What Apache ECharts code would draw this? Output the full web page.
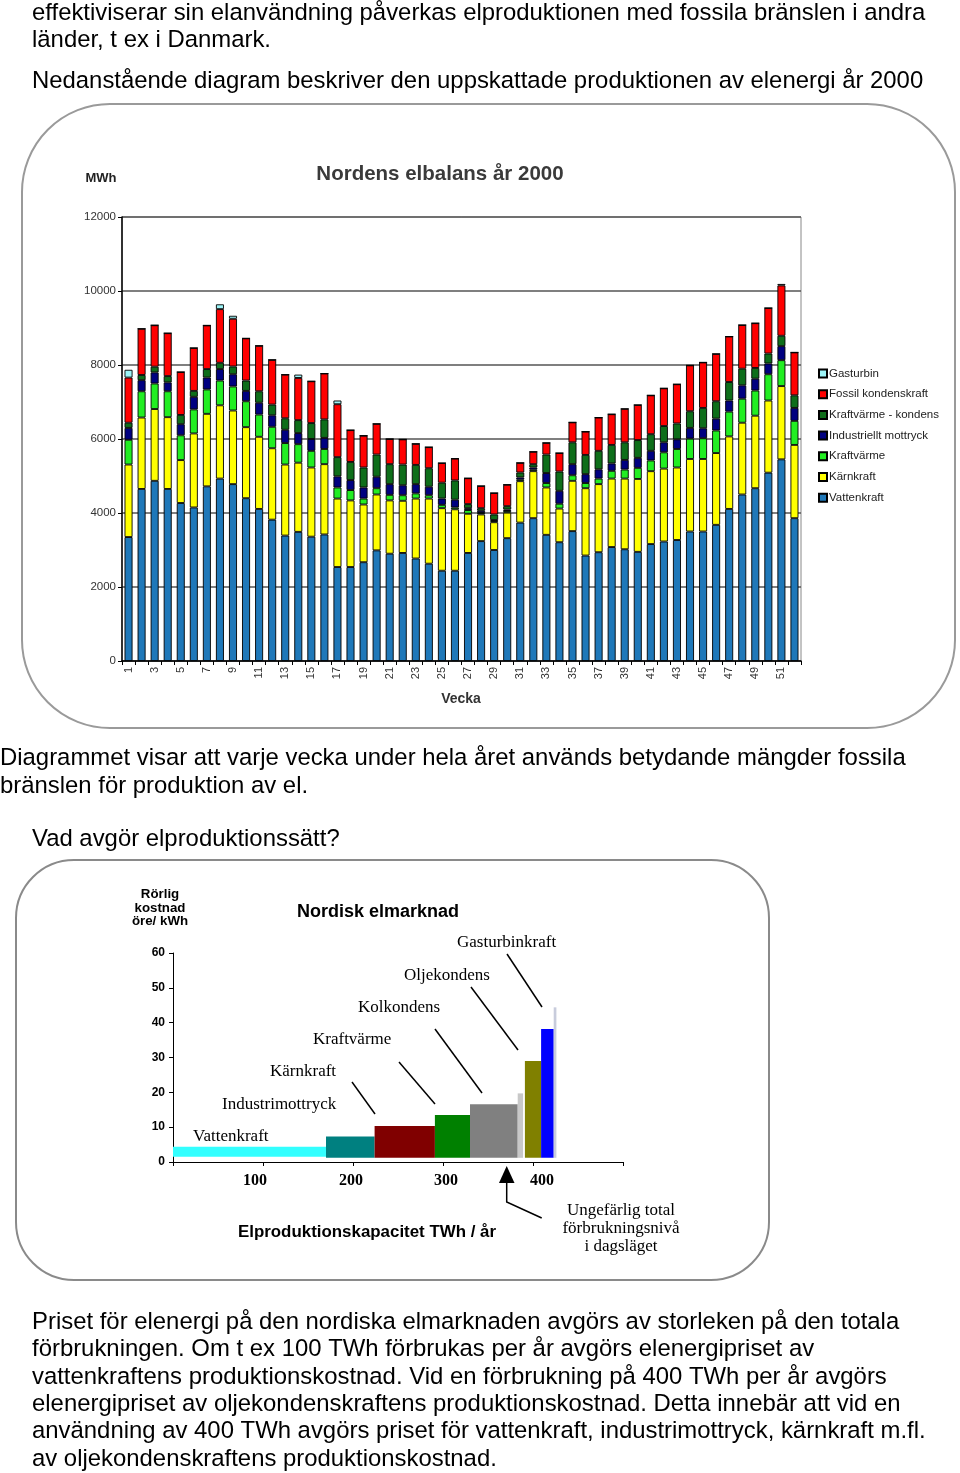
<!DOCTYPE html>
<html><head><meta charset="utf-8">
<script src="https://cdn.jsdelivr.net/npm/echarts@6/dist/echarts.min.js"></script>
<style>html,body{margin:0;padding:0;background:#fff}#c{width:960px;height:1473px}</style>
</head><body><div id="c"></div>
<script>
// ---------- Chart 1: Nordens elbalans år 2000 (MWh per vecka) ----------
const weeks = ['1','2','3','4','5','6','7','8','9','10','11','12','13','14','15','16','17','18','19','20','21','22','23','24','25','26','27','28','29','30','31','32','33','34','35','36','37','38','39','40','41','42','43','44','45','46','47','48','49','50','51','52'];
const yTicks1 = [0, 2000, 4000, 6000, 8000, 10000, 12000];
const vattenkraft = [3350,4650,4870,4650,4270,4150,4720,4930,4780,4400, 4110,3820,3390,3490,3360,3420,2540,2540,2670,2990, 2900,2920,2770,2630,2440,2440,2920,3240,3000,3320, 3740,3860,3410,3210,3510,2850,2940,3080,3020,2950, 3160,3230,3270,3500,3500,3680,4110,4500,4670,5090, 5450,3860];
const karnkraft = [1960,1930,1940,1940,1160,2000,1960,1980,1990,1920, 1950,1930,1920,1870,1870,1900,1850,1800,1560,1510, 1440,1410,1620,1760,1690,1660,1060,720,750,690, 1120,1270,1280,910,1360,1820,1840,1850,1910,1970, 1970,1970,1960,1960,1960,1940,1960,1940,1960,1950, 1980,1980];
const kraftvarme = [670,710,690,700,670,650,660,670,650,700, 600,580,580,500,450,410,300,280,160,170, 150,150,140,90,90,50,100,40,30,45, 40,40,120,130,150,140,150,210,245,300, 290,440,500,550,560,610,670,650,680,710, 700,650];
const industriellt = [320,300,300,240,300,340,320,310,330,280, 320,310,360,300,320,300,300,270,300,310, 290,270,250,230,170,210,50,60,30,40, 60,60,270,350,300,240,250,200,260,270, 260,270,260,290,270,320,300,360,320,290, 380,350];
const kvKondens = [140,140,155,170,250,160,230,170,210,280, 310,290,310,350,430,500,520,490,540,600, 540,560,520,500,430,520,110,70,150,90, 135,90,500,520,590,520,500,500,475,480, 450,440,430,450,550,470,500,450,290,270, 280,340];
const fossil = [1220,1250,1120,1160,1160,1160,1180,1450,1290,1140, 1230,1210,1180,1140,1130,1240,1430,860,860,830, 680,680,570,570,530,590,700,600,580,580, 260,335,315,500,540,630,900,830,905,950, 1050,1020,1060,1240,1230,1280,1230,1180,1210,1230, 1360,1160];
const gasturbin = [210,0,0,0,0,0,0,130,80,0, 0,0,0,90,0,0,100,0,0,0, 0,0,0,0,0,0,0,0,0,0, 0,0,0,0,0,0,0,0,0,0, 0,0,0,0,0,0,0,0,0,0, 40,0];
const seriesNames1 = ['Vattenkraft','Kärnkraft','Kraftvärme','Industriellt mottryck','Kraftvärme - kondens','Fossil kondenskraft','Gasturbin'];
const seriesData1 = [vattenkraft, karnkraft, kraftvarme, industriellt, kvKondens, fossil, gasturbin];
const colors1 = ['#1F78B9','#FFFF00','#22EE22','#000080','#0E6E1A','#FF0000','#9CF5F8'];

// ---------- Chart 2: Nordisk elmarknad (merit order) ----------
const yTicks2 = [0,10,20,30,40,50,60];
const xTicks2 = [100,200,300,400];
const meritNames = ['Vattenkraft','Industrimottryck','Kärnkraft','Kraftvärme','Kolkondens','Kolkondens (topp)','Oljekondens','Gasturbinkraft','Gasturbinkraft (topp)'];
const capFrom = [0,170,224,291,330,383,391,409,423];   // TWh / år
const capTo   = [170,224,291,330,383,389,409,423,426];
const costLow = [1.5,1.2,1.2,1.2,1.2,1.2,1.2,1.2,1.2]; // öre/kWh
const costHigh= [4.4,7.3,10.3,13.5,16.6,19.7,29.0,38.2,44.4];
const meritColors = ['#33FFFF','#008080','#800000','#008000','#808080','#C8C8C8','#808000','#0000FF','#C8CCDC'];

const SANS = '"Liberation Sans", Arial, sans-serif';
const SERIF = '"Liberation Serif", "Times New Roman", serif';

function txt(text, x, y, font, opts) {
  opts = opts || {};
  return { type: 'text', x: x, y: y, silent: true, z: 100,
    style: { text: text, font: font, fill: opts.fill || '#000',
      textAlign: opts.align || 'left', textVerticalAlign: 'middle',
      align: opts.align || 'left', verticalAlign: 'middle', lineHeight: opts.lh } };
}
function line(x1,y1,x2,y2,w){ return {type:'line', silent:true, z:100, shape:{x1,y1,x2,y2}, style:{stroke:'#000', lineWidth:w||1.5}}; }

const PF = '23.9px ' + SANS;
const AF = '17px ' + SERIF;
const graphics = [
  txt('effektiviserar sin elanvändning påverkas elproduktionen med fossila bränslen i andra', 32, 13, PF),
  txt('länder, t ex i Danmark.', 32, 40, PF),
  txt('Nedanstående diagram beskriver den uppskattade produktionen av elenergi år 2000', 32, 81, PF),
  { type:'rect', silent:true, z:0, shape:{x:22, y:104, width:933, height:624, r:88}, style:{fill:'none', stroke:'#9a9a9a', lineWidth:2} },
  txt('Nordens elbalans år 2000', 440, 174, 'bold 20.5px ' + SANS, {align:'center', fill:'#3a3a3a'}),
  txt('MWh', 101, 178, 'bold 13px ' + SANS, {align:'center', fill:'#222'}),
  txt('Vecka', 461, 699, 'bold 14px ' + SANS, {align:'center', fill:'#333'}),
  txt('Diagrammet visar att varje vecka under hela året används betydande mängder fossila', 0, 758, PF),
  txt('bränslen för produktion av el.', 0, 786, PF),
  txt('Vad avgör elproduktionssätt?', 32, 839, PF),
  { type:'rect', silent:true, z:0, shape:{x:16, y:860, width:753, height:420, r:58}, style:{fill:'none', stroke:'#8a8a8a', lineWidth:2} },
  txt('Rörlig\nkostnad\nöre/ kWh', 160, 908, 'bold 13.3px ' + SANS, {align:'center', lh:13.5}),
  txt('Nordisk elmarknad', 378, 912, 'bold 18px ' + SANS, {align:'center'}),
  txt('Gasturbinkraft', 457, 943, AF),
  txt('Oljekondens', 404, 976, AF),
  txt('Kolkondens', 358, 1008, AF),
  txt('Kraftvärme', 313, 1040, AF),
  txt('Kärnkraft', 270, 1072, AF),
  txt('Industrimottryck', 222, 1105, AF),
  txt('Vattenkraft', 193, 1137, AF),
  line(352,1082,375,1114),
  line(399,1062,435,1104),
  line(435,1029,482,1093),
  line(471,987,518,1050),
  line(507,954,542,1007),
  { type:'polygon', silent:true, z:100, shape:{points:[[506.7,1166],[499,1183],[514.5,1183]]}, style:{fill:'#000'} },
  { type:'polyline', silent:true, z:100, shape:{points:[[506.7,1182],[506.7,1202],[541.7,1218]]}, style:{stroke:'#000', lineWidth:1.5, fill:null} },
  txt('Ungefärlig total\nförbrukningsnivå\ni dagsläget', 621, 1229, AF, {align:'center', lh:18}),
  txt('Elproduktionskapacitet TWh / år', 367, 1232, 'bold 16.9px ' + SANS, {align:'center'}),
  txt('Priset för elenergi på den nordiska elmarknaden avgörs av storleken på den totala', 32, 1322, PF),
  txt('förbrukningen. Om t ex 100 TWh förbrukas per år avgörs elenergipriset av', 32, 1349, PF),
  txt('vattenkraftens produktionskostnad. Vid en förbrukning på 400 TWh per år avgörs', 32, 1377, PF),
  txt('elenergipriset av oljekondenskraftens produktionskostnad. Detta innebär att vid en', 32, 1404, PF),
  txt('användning av 400 TWh avgörs priset för vattenkraft, industrimottryck, kärnkraft m.fl.', 32, 1431, PF),
  txt('av oljekondenskraftens produktionskostnad.', 32, 1459, PF)
];

const chart = echarts.init(document.getElementById('c'), null, {renderer:'canvas'});

const series = seriesNames1.map((n, i) => ({
  name: n, type: 'bar', stack: 'tot', xAxisIndex: 0, yAxisIndex: 0,
  data: seriesData1[i], barWidth: 8,
  itemStyle: { color: colors1[i], borderColor: '#000', borderWidth: 0.9 },
  emphasis: { disabled: true }
}));
series.push({
  name: 'Nordisk elmarknad', type: 'custom', xAxisIndex: 1, yAxisIndex: 1,
  data: meritNames.map((n, i) => [capFrom[i], capTo[i], costLow[i], costHigh[i]]),
  encode: { x: [0, 1], y: [2, 3] },
  renderItem: function (params, api) {
    const p0 = api.coord([api.value(0), api.value(3)]);
    const p1 = api.coord([api.value(1), api.value(2)]);
    return { type: 'rect', shape: { x: p0[0], y: p0[1], width: p1[0] - p0[0], height: p1[1] - p0[1] },
      style: { fill: meritColors[params.dataIndex] } };
  },
  silent: true
});

// per-label nudges to follow the hand-placed labels of the original
const xLabelStyle = { t100: {padding:[0,16,0,0]}, t200: {padding:[0,4,0,0]}, t300: {padding:[0,0,0,6]}, t400: {padding:[0,0,0,18]} };
for (const k in xLabelStyle) Object.assign(xLabelStyle[k], {fontSize:16, fontWeight:'bold', fontFamily:SERIF, color:'#000'});

chart.setOption({
  animation: false,
  backgroundColor: '#fff',
  textStyle: { fontFamily: SANS },
  legend: {
    data: seriesNames1.slice().reverse(),
    orient: 'vertical', left: 818, top: 367, padding: 0,
    itemWidth: 8, itemHeight: 8, itemGap: 7.7, icon: 'rect',
    selectedMode: false,
    textStyle: { fontSize: 11.5, lineHeight: 13, color: '#222', fontFamily: SANS, padding: [0,0,0,-3] }
  },
  grid: [
    { left: 122, top: 217, width: 679, height: 444, show: true, borderColor: '#888', borderWidth: 1, containLabel: false, outerBoundsMode: 'none' },
    { left: 173, top: 953, width: 450, height: 209, containLabel: false, outerBoundsMode: 'none' }
  ],
  xAxis: [
    { type: 'category', gridIndex: 0, data: weeks,
      axisLine: { lineStyle: { color: '#000', width: 1.5 } },
      axisTick: { show: true, interval: 0, length: 4, lineStyle: { color: '#000' } },
      axisLabel: { interval: 1, rotate: 90, fontSize: 11, color: '#333', margin: 6, fontFamily: SANS },
      splitLine: { show: false } },
    { type: 'value', gridIndex: 1, min: 0, max: 500, interval: 100,
      axisLine: { show: true, lineStyle: { color: '#000', width: 1 } },
      axisTick: { show: true, length: 4, inside: false, lineStyle: { color: '#000' } },
      axisLabel: { color: '#000', margin: 11, rich: xLabelStyle,
        formatter: v => (xTicks2.indexOf(v) >= 0 ? '{t' + v + '|' + v + '}' : '') },
      splitLine: { show: false } }
  ],
  yAxis: [
    { type: 'value', gridIndex: 0, min: yTicks1[0], max: yTicks1[yTicks1.length-1], interval: 2000,
      axisLine: { show: true, lineStyle: { color: '#000', width: 1.5 } },
      axisTick: { show: true, length: 4, lineStyle: { color: '#000' } },
      axisLabel: { fontSize: 11.5, color: '#333', margin: 6, fontFamily: SANS, formatter: v => String(v) },
      splitLine: { show: true, lineStyle: { color: '#555', width: 1.5 } } },
    { type: 'value', gridIndex: 1, min: yTicks2[0], max: yTicks2[yTicks2.length-1], interval: 10,
      axisLine: { show: true, lineStyle: { color: '#000', width: 1 } },
      axisTick: { show: true, length: 4, lineStyle: { color: '#000' } },
      axisLabel: { fontSize: 12, fontWeight: 'bold', color: '#000', margin: 8, fontFamily: SANS, formatter: v => String(v) },
      splitLine: { show: false } }
  ],
  series: series,
  graphic: { elements: graphics }
});
</script></body></html>
